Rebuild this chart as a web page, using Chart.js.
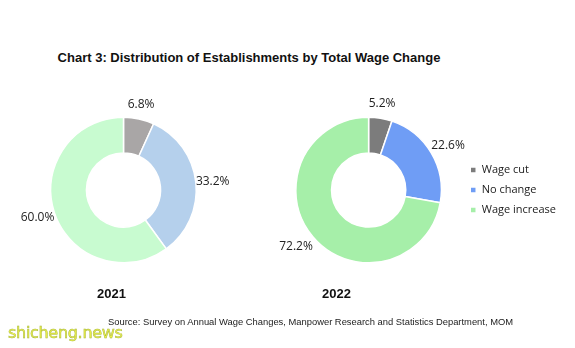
<!DOCTYPE html>
<html>
<head>
<meta charset="utf-8">
<script src="https://cdn.jsdelivr.net/npm/chart.js@4/dist/chart.umd.min.js"></script>
<style>
  body { margin: 0; background: #fff; }
  #wrap { position: relative; width: 575px; height: 348px; overflow: hidden; font-family: "Liberation Sans", Arial, sans-serif; }
  .abs { position: absolute; white-space: nowrap; }
  #title { left: 0; width: 498px; top: 50px; text-align: center; font-weight: bold; font-size: 13px; color: #111; }
  .year { top: 286px; font-weight: bold; font-size: 13px; color: #111; }
  #source { left: 108px; top: 316px; font-size: 9.4px; color: #222; }
  #mark { left: 8px; top: 323px; font-family: "DejaVu Sans", sans-serif; font-size: 16px; color: #eef04a; -webkit-text-stroke: 0.5px #a6b83c; letter-spacing: -0.3px; }
</style>
</head>
<body>
<div id="wrap">
  <div id="title" class="abs">Chart 3: Distribution of Establishments by Total Wage Change</div>
  <div class="abs" style="left:0;top:90px;width:250px;height:200px;"><canvas id="c2021"></canvas></div>
  <div class="abs" style="left:250px;top:90px;width:325px;height:200px;"><canvas id="c2022"></canvas></div>
  <div class="abs year" style="left:97px;">2021</div>
  <div class="abs year" style="left:322px;">2022</div>
  <div id="source" class="abs">Source: Survey on Annual Wage Changes, Manpower Research and Statistics Department, MOM</div>
  <div id="mark" class="abs">shicheng.news</div>
</div>
<script>
const categories = ["Wage cut", "No change", "Wage increase"];
const share2021 = [6.8, 33.2, 60.0];
const share2022 = [5.2, 22.6, 72.2];
const colors2021 = ["#a9a6a6", "#b5d0ec", "#c8fbd0"];
const colors2022 = ["#7c7c7c", "#6f9df5", "#a6efa9"];

// percentage text just outside each slice, aligned away from the ring
const outsideLabels = {
  id: "outsideLabels",
  afterDraw(chart) {
    const ctx = chart.ctx;
    const meta = chart.getDatasetMeta(0);
    const data = chart.data.datasets[0].data;
    ctx.save();
    ctx.font = "12px 'Open Sans', sans-serif";
    ctx.fillStyle = "#222";
    ctx.textBaseline = "middle";
    meta.data.forEach((arc, i) => {
      const p = arc.getProps(["x", "y", "startAngle", "endAngle", "outerRadius"], true);
      const mid = (p.startAngle + p.endAngle) / 2;
      const cos = Math.cos(mid), sin = Math.sin(mid);
      ctx.textAlign = cos > 0.3 ? "left" : cos < -0.3 ? "right" : "center";
      const x = p.x + cos * (p.outerRadius + (Math.abs(cos) > 0.3 ? 0 : 10));
      const y = p.y + sin * (p.outerRadius + 15);
      ctx.fillText(data[i].toFixed(1) + "%", x, y);
    });
    ctx.restore();
  }
};

function makeDoughnut(id, values, colors, showLegend, padding) {
  return new Chart(document.getElementById(id), {
    type: "doughnut",
    data: {
      labels: categories,
      datasets: [{
        data: values,
        backgroundColor: colors,
        borderColor: "#fff",
        borderWidth: 1.5
      }]
    },
    options: {
      responsive: true,
      maintainAspectRatio: false,
      animation: false,
      cutout: "51%",
      layout: { padding: padding },
      plugins: {
        tooltip: { enabled: false },
        legend: {
          display: showLegend,
          position: "right",
          labels: {
            boxWidth: 6,
            boxHeight: 6,
            padding: 9,
            color: "#222",
            font: { family: "'Open Sans', sans-serif", size: 11 }
          }
        }
      }
    },
    plugins: [outsideLabels]
  });
}

makeDoughnut("c2021", share2021, colors2021, false, { left: 50, right: 53, top: 26.5, bottom: 26.5 });
makeDoughnut("c2022", share2022, colors2022, true, { left: 26, right: 9, top: 26.5, bottom: 26.5 });
</script>
</body>
</html>
